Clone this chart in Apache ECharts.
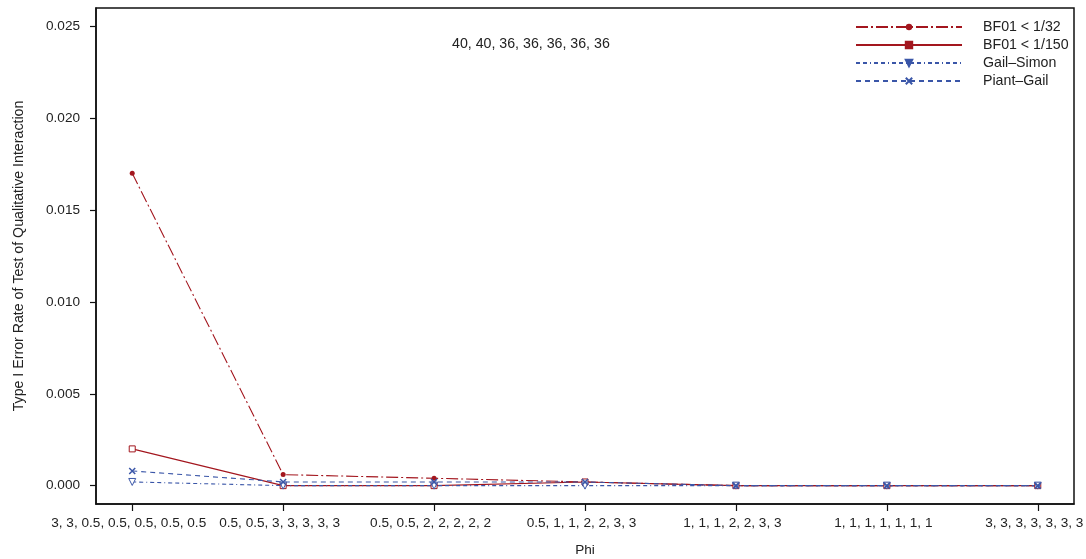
<!DOCTYPE html>
<html>
<head>
<meta charset="utf-8">
<script src="https://cdn.jsdelivr.net/npm/echarts@6/dist/echarts.min.js"></script>
<style>
  html, body { margin: 0; padding: 0; background: #fff; }
  #chart { width: 1086px; height: 559px; }
</style>
</head>
<body>
<div id="chart"></div>
<script>
// Phi scenarios along the x axis
const phiLabels = [
  '3, 3, 0.5, 0.5, 0.5, 0.5, 0.5',
  '0.5, 0.5, 3, 3, 3, 3, 3',
  '0.5, 0.5, 2, 2, 2, 2, 2',
  '0.5, 1, 1, 2, 2, 3, 3',
  '1, 1, 1, 2, 2, 3, 3',
  '1, 1, 1, 1, 1, 1, 1',
  '3, 3, 3, 3, 3, 3, 3'
];
// Type I error rates for each test
const bf32 = [0.017, 0.0006, 0.0004, 0.0002, 0, 0, 0];
const bf150 = [0.002, 0, 0, 0.0002, 0, 0, 0];
const gailSimon = [0.0002, 0, 0, 0, 0, 0, 0];
const piantGail = [0.0008, 0.0002, 0.0002, 0.0002, 0, 0, 0];
const yTicks = [0, 0.005, 0.010, 0.015, 0.020, 0.025];
const sampleSizes = '40, 40, 36, 36, 36, 36, 36';

const RED = '#a3161e';
const BLUE = '#3a56a8';
const TXT = '#222';
const FONT = '"Liberation Sans", Arial, sans-serif';

const pts = arr => arr.map((v, i) => [i, v]);

const chart = echarts.init(document.getElementById('chart'), null, { renderer: 'canvas' });
chart.setOption({
  animation: false,
  textStyle: { fontFamily: FONT },
  grid: {
    left: 96, right: 12, top: 8, bottom: 55,
    outerBoundsMode: 'none', containLabel: false,
    show: true, borderColor: '#111', borderWidth: 1.5, backgroundColor: 'transparent'
  },
  xAxis: {
    type: 'value', min: -0.24, max: 6.24,
    name: 'Phi', nameLocation: 'middle', nameGap: 39,
    nameTextStyle: { fontSize: 13.6, color: TXT, fontFamily: FONT },
    axisLine: { show: true, onZero: false, lineStyle: { color: '#111', width: 1.5 } },
    axisTick: { show: true, length: 7, customValues: phiLabels.map((_, i) => i), lineStyle: { color: '#111', width: 1.2 } },
    axisLabel: {
      customValues: phiLabels.map((_, i) => i), margin: 12,
      padding: [0, 7, 0, 0],
      fontSize: 13.6, color: TXT, fontFamily: FONT,
      formatter: v => phiLabels[Math.round(v)]
    },
    splitLine: { show: false }
  },
  yAxis: {
    type: 'value', min: -0.001, max: 0.026,
    name: 'Type I Error Rate of Test of Qualitative Interaction',
    nameLocation: 'middle', nameGap: 70,
    nameTextStyle: { fontSize: 14.2, color: TXT, fontFamily: FONT },
    axisLine: { show: true, onZero: false, lineStyle: { color: '#111', width: 1.5 } },
    axisTick: { show: true, length: 6, customValues: yTicks, lineStyle: { color: '#111', width: 1.2 } },
    axisLabel: {
      customValues: yTicks, margin: 16,
      fontSize: 13.6, color: TXT, fontFamily: FONT,
      formatter: v => v.toFixed(3)
    },
    splitLine: { show: false }
  },
  legend: {
    orient: 'vertical', left: 855, top: 20, padding: 0,
    itemWidth: 106, itemHeight: 8, itemGap: 4,
    textStyle: { fontSize: 14.2, color: TXT, fontFamily: FONT, padding: [0, 0, 0, 16] },
    selectedMode: false,
    data: [
      { name: 'BF01 < 1/32' },
      { name: 'BF01 < 1/150', itemStyle: { color: RED } },
      { name: 'Gail\u2013Simon', itemStyle: { color: BLUE } },
      { name: 'Piant\u2013Gail' }
    ]
  },
  graphic: [{
    type: 'text', left: 452, top: 37,
    style: { text: sampleSizes, fontSize: 14.2, fill: TXT, fontFamily: FONT }
  }],
  series: [
    {
      name: 'BF01 < 1/32', type: 'line', data: pts(bf32),
      symbol: 'circle', symbolSize: 5,
      itemStyle: { color: RED },
      lineStyle: { color: RED, width: 1.1, type: [12, 3, 2, 3] },
      emphasis: { disabled: true }
    },
    {
      name: 'BF01 < 1/150', type: 'line', data: pts(bf150),
      symbol: 'rect', symbolSize: 6,
      itemStyle: { color: '#fff', borderColor: RED, borderWidth: 1 },
      lineStyle: { color: RED, width: 1.1 },
      emphasis: { disabled: true }
    },
    {
      name: 'Gail\u2013Simon', type: 'line', data: pts(gailSimon),
      symbol: 'triangle', symbolRotate: 180, symbolSize: 7,
      itemStyle: { color: '#fff', borderColor: BLUE, borderWidth: 1 },
      lineStyle: { color: BLUE, width: 1.1, type: [4, 3, 4, 3, 1, 3] },
      emphasis: { disabled: true }
    },
    {
      name: 'Piant\u2013Gail', type: 'line', data: pts(piantGail),
      symbol: 'path://M0,0L10,10M10,0L0,10', symbolSize: 6,
      itemStyle: { color: BLUE, borderColor: BLUE, borderWidth: 1.5 },
      lineStyle: { color: BLUE, width: 1.1, type: [5, 4] },
      emphasis: { disabled: true }
    }
  ]
});
</script>
</body>
</html>
